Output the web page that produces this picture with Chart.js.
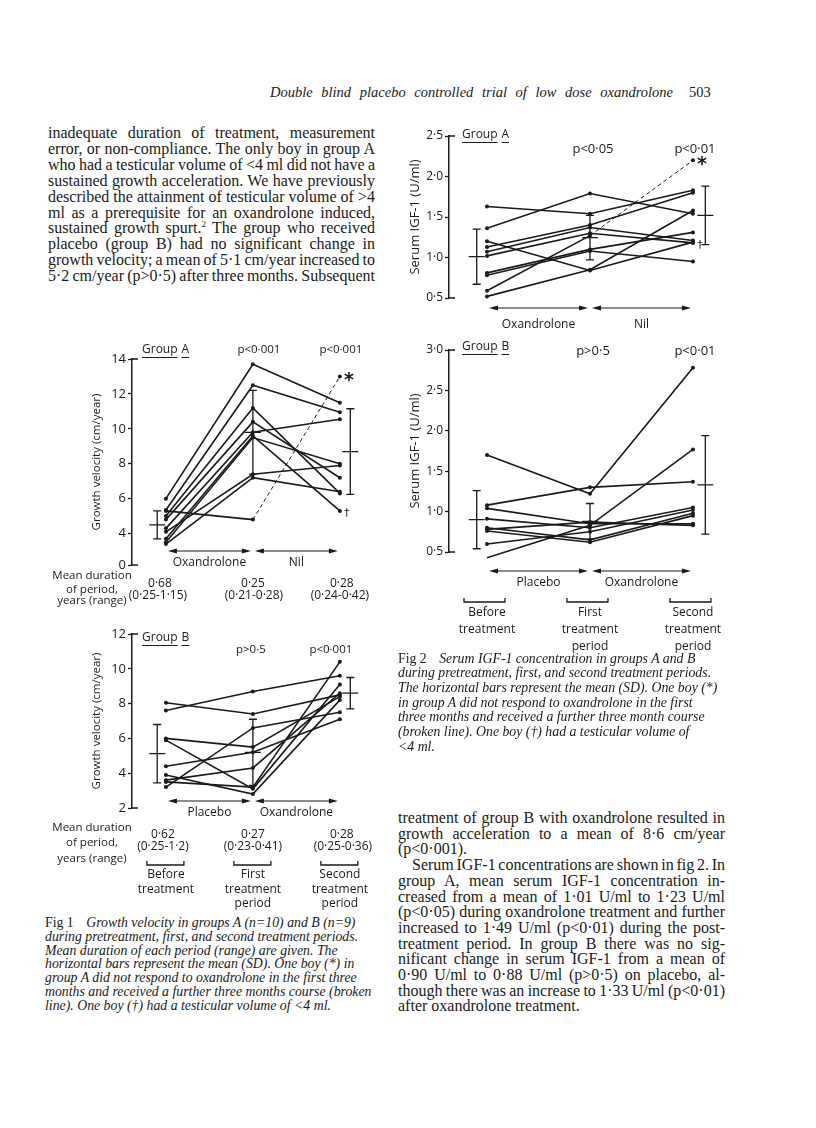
<!DOCTYPE html>
<html>
<head>
<meta charset="utf-8">
<script src="https://cdn.jsdelivr.net/npm/chart.js@4.4.1/dist/chart.umd.min.js"></script>
<style>
  body { margin: 0; background: #fff; }
  #page { position: relative; width: 816px; height: 1128px; overflow: hidden; color: #1a1a1a;
          font-family: "Liberation Serif", "Times New Roman", serif; }
  #page canvas { position: absolute; }
  .tl { position: absolute; white-space: nowrap; text-align: left; }
  .body.jl { word-spacing: -2px; }
  .cap { font-style: italic; }
  .cap b { font-style: normal; font-weight: normal; margin-right: 9px; }
  .lab { position: absolute; width: 100px; text-align: center; font-family: "Open Sans", sans-serif;
         font-size: 11.5px; line-height: 14px; }
  #head { position: absolute; left: 270px; top: 84px; width: 403px; font-size: 14.5px; font-style: italic;
          text-align: justify; text-align-last: justify; white-space: nowrap; }
  #folio { position: absolute; left: 689px; top: 84px; font-size: 14.5px; }
</style>
</head>
<body>
<div id="page">
  <div id="head">Double blind placebo controlled trial of low dose oxandrolone</div>
  <div id="folio">503</div>

  <canvas id="gvA" width="303" height="277" style="left:82px;top:335px"></canvas>
  <canvas id="gvB" width="303" height="297" style="left:82px;top:615px"></canvas>
  <canvas id="igfA" width="335" height="215" style="left:400px;top:120px"></canvas>
  <canvas id="igfB" width="335" height="320" style="left:400px;top:335px"></canvas>

  <div class="lab" style="left:42px;top:568px">Mean duration<br>of period,</div>
  <div class="lab" style="left:42px;top:593px">years (range)</div>
  <div class="lab" style="left:42px;top:820px">Mean duration</div>
  <div class="lab" style="left:42px;top:835px">of period,</div>
  <div class="lab" style="left:42px;top:851px">years (range)</div>
</div>

<script>
const INK = '#1a1a1a';
Chart.defaults.font.family = '"Open Sans", sans-serif';
Chart.defaults.color = INK;

const periods = [0, 1, 2];
const periodLines = [['Before', 'treatment'], ['First', 'treatment', 'period'], ['Second', 'treatment', 'period']];

// Fig 1, group A: growth velocity (cm/year), one entry per boy
const gvA_before = [6.0, 5.35, 5.0, 4.8, 4.3, 3.7, 3.5, 4.1, 3.4, 5.3];
const gvA_first  = [13.7, 12.5, 11.2, 10.4, 9.8, 9.6, 9.5, 7.4, 7.2, 4.8];
const gvA_second = [11.5, 10.95, 6.3, 7.2, 10.55, 5.3, 8.0, 7.9, 6.4, 13.0];
const gvA_mean = [4.5, 9.8, 8.7];
const gvA_sd   = [0.8, 2.4, 2.45];
const gvA_ticks = [2.2, 4, 6, 8, 10, 12, 14];
const gvA_tickLabels = ['0', '4', '6', '8', '10', '12', '14'];
const gvA_p = ['p<0·001', 'p<0·001'];
const gvA_duration = ['0·68', '0·25', '0·28'];
const gvA_range = ['(0·25-1·15)', '(0·21-0·28)', '(0·24-0·42)'];

// Fig 1, group B
const gvB_before = [7.6, 8.05, 3.2, 6.0, 4.4, 3.6, 3.5, 5.9, 3.9];
const gvB_first  = [8.7, 7.4, 6.6, 5.5, 5.2, 4.3, 3.2, 3.1, 2.8];
const gvB_second = [9.6, 8.5, 7.5, 8.4, 7.1, 8.6, 10.4, 9.1, 8.2];
const gvB_mean = [5.12, 5.2, 8.6];
const gvB_sd   = [1.68, 1.9, 0.9];
const gvB_ticks = [2, 4, 6, 8, 10, 12];
const gvB_tickLabels = ['2', '4', '6', '8', '10', '12'];
const gvB_p = ['p>0·5', 'p<0·001'];
const gvB_duration = ['0·62', '0·27', '0·28'];
const gvB_range = ['(0·25-1·2)', '(0·23-0·41)', '(0·25-0·36)'];

// Fig 2, group A: serum IGF-1 (U/ml)
const igfA_before = [1.63, 1.36, 1.20, 1.13, 1.07, 1.02, 0.81, 0.78, 0.52, 0.59];
const igfA_first  = [1.54, 1.79, 0.84, 1.40, 1.37, 1.30, 1.10, 1.08, 0.85, 1.27];
const igfA_second = [1.83, 1.54, 1.19, 1.80, 1.21, 1.18, 1.31, 0.95, 1.58, 2.20];
const igfA_mean = [1.01, 1.245, 1.52];
const igfA_sd   = [0.34, 0.275, 0.36];
const igfA_ticks = [0.5, 1.0, 1.5, 2.0, 2.5];
const igfA_tickLabels = ['0·5', '1·0', '1·5', '2·0', '2·5'];
const igfA_p = ['p<0·05', 'p<0·01'];

// Fig 2, group B
const igfB_before = [1.70, 1.08, 0.43, 1.04, 0.78, 0.91, 0.60, 0.80, 0.76];
const igfB_first  = [1.22, 1.30, 0.83, 0.85, 0.87, 0.80, 0.75, 0.65, 0.62];
const igfB_second = [2.78, 1.37, 1.77, 0.85, 0.83, 1.05, 1.02, 0.98, 0.95];
const igfB_mean = [0.90, 0.88, 1.33];
const igfB_sd   = [0.36, 0.22, 0.61];
const igfB_ticks = [0.5, 1.0, 1.5, 2.0, 2.5, 3.0];
const igfB_tickLabels = ['0·5', '1·0', '1·5', '2·0', '2·5', '3·0'];
const igfB_p = ['p>0·5', 'p<0·01'];

// boy who got a second course (broken line, *) and boy with testes < 4 ml (†)
const groupA_dashed = 9;
const groupA_dagger = 5;

const meanX = [-0.1, 1, 2.12];

function head(ctx, x, y, dir) {
  ctx.beginPath();
  ctx.moveTo(x, y);
  ctx.lineTo(x + dir * 9, y - 2.6);
  ctx.lineTo(x + dir * 9, y + 2.6);
  ctx.closePath();
  ctx.fill();
}

function makeDecor(o) {
  return {
    id: 'decor',
    afterDatasetsDraw(chart) {
      const { ctx, chartArea: a, scales: { x, y } } = chart;
      const px = v => x.getPixelForValue(v);
      const py = v => y.getPixelForValue(v);
      ctx.save();
      ctx.strokeStyle = INK;
      ctx.fillStyle = INK;

      // corners at both ends of the axis
      ctx.lineWidth = 1.5;
      ctx.beginPath();
      ctx.moveTo(a.left, a.top); ctx.lineTo(a.left + 6, a.top);
      ctx.moveTo(a.left, a.bottom); ctx.lineTo(a.left + 6, a.bottom);
      ctx.stroke();

      // mean (SD)
      ctx.lineWidth = 1.3;
      o.mean.forEach((m, i) => {
        const bx = px(meanX[i]), t = py(m + o.sd[i]), b = py(m - o.sd[i]), c = py(m);
        ctx.beginPath();
        ctx.moveTo(bx, t); ctx.lineTo(bx, b);
        ctx.moveTo(bx - 4, t); ctx.lineTo(bx + 4, t);
        ctx.moveTo(bx - 4, b); ctx.lineTo(bx + 4, b);
        ctx.moveTo(bx - 8, c); ctx.lineTo(bx + 8, c);
        ctx.stroke();
      });

      ctx.textBaseline = 'middle';

      // underlined group name
      ctx.textAlign = 'left';
      ctx.font = '12px "Open Sans"';
      ctx.lineWidth = 1;
      let gx = a.left + o.groupDx;
      const gy = a.top + o.groupDy;
      o.group.split(' ').forEach(w => {
        const wd = ctx.measureText(w).width;
        ctx.fillText(w, gx, gy);
        ctx.beginPath(); ctx.moveTo(gx, gy + 7.5); ctx.lineTo(gx + wd, gy + 7.5); ctx.stroke();
        gx += wd + 4;
      });

      // p values
      ctx.textAlign = 'center';
      ctx.font = o.pFont;
      o.p.forEach((t, i) => ctx.fillText(t, px(i + 1) + o.pDx[i], a.top + o.pDy));

      // treatment arrows
      const ay = a.bottom + o.arrowDy;
      ctx.font = '12px "Open Sans"';
      ctx.lineWidth = 1.2;
      o.arrows.forEach((t, k) => {
        const x0 = px(k) + 2, x1 = px(k + 1) - 2;
        ctx.beginPath(); ctx.moveTo(x0 + 4, ay); ctx.lineTo(x1 - 4, ay); ctx.stroke();
        head(ctx, x0, ay, 1);
        head(ctx, x1, ay, -1);
        ctx.fillText(t, (x0 + x1) / 2, a.bottom + o.arrowTextDy);
      });

      // texts under the columns
      o.rows.forEach(r => r.texts.forEach((t, i) => ctx.fillText(t, px(i) + (r.dx ? r.dx[i] : 0), a.bottom + r.dy)));

      // brackets
      if (o.bracketDy != null) {
        const by = a.bottom + o.bracketDy;
        ctx.lineWidth = 1.3;
        periods.forEach(p => {
          const l = px(p) + o.bracket[0], r = px(p) + o.bracket[1];
          ctx.beginPath();
          ctx.moveTo(l, by - 4); ctx.lineTo(l, by); ctx.lineTo(r, by); ctx.lineTo(r, by - 4);
          ctx.stroke();
        });
      }

      // * and † markers
      if (o.star != null) {
        const d = chart.data.datasets[o.star].data[2];
        ctx.font = 'bold 19px "DejaVu Sans"';
        ctx.fillText('*', px(d.x) + 9, py(d.y) + 5);
      }
      if (o.dagger != null) {
        const d = chart.data.datasets[o.dagger].data[2];
        ctx.font = '11px "DejaVu Sans"';
        ctx.fillText('†', px(d.x) + 7, py(d.y) + 2);
      }
      ctx.restore();
    }
  };
}

function makePanel(id, cols, o) {
  const datasets = cols[0].map((_, i) => {
    const ds = {
      data: periods.map(p => ({ x: p, y: cols[p][i] })),
      borderColor: INK,
      borderWidth: 1.6,
      pointRadius: 2,
      pointBorderWidth: 0,
      pointBackgroundColor: INK,
      tension: 0,
      clip: false
    };
    if (i === o.dashed) {
      ds.segment = {
        borderDash: c => c.p0DataIndex === 1 ? [4, 3] : undefined,
        borderWidth: c => c.p0DataIndex === 1 ? 1 : undefined
      };
    }
    return ds;
  });

  return new Chart(document.getElementById(id), {
    type: 'line',
    data: { datasets },
    options: {
      responsive: false,
      animation: false,
      layout: { padding: o.pad },
      plugins: { legend: { display: false }, tooltip: { enabled: false } },
      scales: {
        x: { type: 'linear', display: false, min: o.xMin, max: o.xMax },
        y: {
          min: o.ticks[0],
          max: o.ticks[o.ticks.length - 1],
          afterFit: s => { s.width = o.axisW; },
          afterBuildTicks: s => { s.ticks = o.ticks.map(v => ({ value: v })); },
          ticks: { callback: (v, i) => o.tickLabels[i], font: { size: o.tickSize }, padding: 2, autoSkip: false, color: INK },
          grid: { drawOnChartArea: false, tickLength: 4, color: INK, tickWidth: 1.3 },
          border: { color: INK, width: 1.5 },
          title: { display: true, text: o.yTitle, color: INK, font: { size: o.titleSize },
                   padding: { top: o.titlePad, bottom: 0 } }
        }
      }
    },
    plugins: [makeDecor(o)]
  });
}

const periodRows = (dys) => dys.map((dy, k) => ({ dy, texts: periodLines.map(l => l[k] || '') }));

makePanel('gvA', [gvA_before, gvA_first, gvA_second], {
  xMin: -0.39, xMax: 2.45, axisW: 50, pad: { top: 24, bottom: 47, left: 0, right: 6 },
  ticks: gvA_ticks, tickLabels: gvA_tickLabels, tickSize: 13,
  yTitle: 'Growth velocity (cm/year)', titleSize: 11.5, titlePad: 8,
  mean: gvA_mean, sd: gvA_sd,
  group: 'Group A', groupDx: 10, groupDy: -9,
  p: gvA_p, pDx: [6, 1], pDy: -9, pFont: '11.5px "Open Sans"',
  arrows: ['Oxandrolone', 'Nil'], arrowDy: -14, arrowTextDy: -2,
  rows: [{ dy: 19, texts: gvA_duration, dx: [-6, 0, 2] }, { dy: 31, texts: gvA_range, dx: [-8, 1, 0] }],
  dashed: groupA_dashed, star: groupA_dashed, dagger: groupA_dagger
});

makePanel('gvB', [gvB_before, gvB_first, gvB_second], {
  xMin: -0.39, xMax: 2.45, axisW: 50, pad: { top: 19, bottom: 104, left: 0, right: 6 },
  ticks: gvB_ticks, tickLabels: gvB_tickLabels, tickSize: 13,
  yTitle: 'Growth velocity (cm/year)', titleSize: 11.5, titlePad: 8,
  mean: gvB_mean, sd: gvB_sd,
  group: 'Group B', groupDx: 10, groupDy: 4,
  p: gvB_p, pDx: [-2, -9], pDy: 16, pFont: '11.5px "Open Sans"',
  arrows: ['Placebo', 'Oxandrolone'], arrowDy: -7, arrowTextDy: 5,
  rows: [{ dy: 27, texts: gvB_duration, dx: [-3, 0, 2] }, { dy: 39, texts: gvB_range, dx: [-3, 0, 3] }]
    .concat(periodRows([67, 82, 96])),
  bracketDy: 57, bracket: [-19, 18]
});

makePanel('igfA', [igfA_before, igfA_first, igfA_second], {
  xMin: -0.369, xMax: 2.35, axisW: 49, pad: { top: 16, bottom: 37, left: 0, right: 6 },
  ticks: igfA_ticks, tickLabels: igfA_tickLabels, tickSize: 12,
  yTitle: 'Serum IGF-1 (U/ml)', titleSize: 13, titlePad: 7,
  mean: igfA_mean, sd: igfA_sd,
  group: 'Group A', groupDx: 13, groupDy: -1,
  p: igfA_p, pDx: [3, 2], pDy: 13, pFont: '13px "Open Sans"',
  arrows: ['Oxandrolone', 'Nil'], arrowDy: 10, arrowTextDy: 27,
  rows: [],
  dashed: groupA_dashed, star: groupA_dashed, dagger: groupA_dagger
});

makePanel('igfB', [igfB_before, igfB_first, igfB_second], {
  xMin: -0.369, xMax: 2.35, axisW: 49, pad: { top: 15, bottom: 103, left: 0, right: 6 },
  ticks: igfB_ticks, tickLabels: igfB_tickLabels, tickSize: 12,
  yTitle: 'Serum IGF-1 (U/ml)', titleSize: 13, titlePad: 7,
  mean: igfB_mean, sd: igfB_sd,
  group: 'Group B', groupDx: 13, groupDy: -3,
  p: igfB_p, pDx: [3, 2], pDy: 1, pFont: '13px "Open Sans"',
  arrows: ['Placebo', 'Oxandrolone'], arrowDy: 19, arrowTextDy: 31,
  rows: periodRows([61, 78, 95]),
  bracketDy: 50, bracket: [-23, 18]
});

// running text and captions
function textLines(list, o) {
  const page = document.getElementById('page');
  list.forEach(([s, mode], i) => {
    const d = document.createElement('div');
    const ind = mode === 'i' ? 14 : 0;
    d.className = 'tl' + (o.cls ? ' ' + o.cls : '');
    d.style.left = (o.left + ind) + 'px';
    d.style.top = (o.y0 + i * o.step - o.lh / 2) + 'px';
    d.style.width = (o.width - ind) + 'px';
    d.style.fontSize = o.size + 'px';
    d.style.lineHeight = o.lh + 'px';
    if (mode === 'j' || mode === 'i') {
      d.classList.add('jl');
      d.style.textAlign = 'justify';
      d.style.textAlignLast = 'justify';
    }
    d.innerHTML = s;
    page.appendChild(d);
  });
}

textLines([
  ['inadequate duration of treatment, measurement', 'j'],
  ['error, or non-compliance. The only boy in group A', 'j'],
  ['who had a testicular volume of &lt;4 ml did not have a', 'j'],
  ['sustained growth acceleration. We have previously', 'j'],
  ['described the attainment of testicular volume of &gt;4', 'j'],
  ['ml as a prerequisite for an oxandrolone induced,', 'j'],
  ['sustained growth spurt.<sup style="font-size:9px;line-height:0">2</sup> The group who received', 'j'],
  ['placebo (group B) had no significant change in', 'j'],
  ['growth velocity; a mean of 5·1 cm/year increased to', 'j'],
  ['5·2 cm/year (p&gt;0·5) after three months. Subsequent', 'j']
], { left: 48, width: 327, y0: 133, step: 15.9, size: 16, lh: 16, cls: 'body' });

textLines([
  ['treatment of group B with oxandrolone resulted in', 'j'],
  ['growth acceleration to a mean of 8·6 cm/year', 'j'],
  ['(p&lt;0·001).', 'l'],
  ['Serum IGF-1 concentrations are shown in fig 2. In', 'i'],
  ['group A, mean serum IGF-1 concentration in-', 'j'],
  ['creased from a mean of 1·01 U/ml to 1·23 U/ml', 'j'],
  ['(p&lt;0·05) during oxandrolone treatment and further', 'j'],
  ['increased to 1·49 U/ml (p&lt;0·01) during the post-', 'j'],
  ['treatment period. In group B there was no sig-', 'j'],
  ['nificant change in serum IGF-1 from a mean of', 'j'],
  ['0·90 U/ml to 0·88 U/ml (p&gt;0·5) on placebo, al-', 'j'],
  ['though there was an increase to 1·33 U/ml (p&lt;0·01)', 'j'],
  ['after oxandrolone treatment.', 'l']
], { left: 398, width: 327, y0: 818, step: 15.7, size: 16, lh: 16, cls: 'body' });

textLines([
  ['<b>Fig 1</b> Growth velocity in groups A (n=10) and B (n=9)', 'l'],
  ['during pretreatment, first, and second treatment periods.', 'l'],
  ['Mean duration of each period (range) are given. The', 'l'],
  ['horizontal bars represent the mean (SD). One boy (*) in', 'l'],
  ['group A did not respond to oxandrolone in the first three', 'l'],
  ['months and received a further three months course (broken', 'l'],
  ['line). One boy (†) had a testicular volume of &lt;4 ml.', 'l']
], { left: 45, width: 340, y0: 923, step: 13.8, size: 13.8, lh: 14, cls: 'cap' });

textLines([
  ['<b>Fig 2</b> Serum IGF-1 concentration in groups A and B', 'l'],
  ['during pretreatment, first, and second treatment periods.', 'l'],
  ['The horizontal bars represent the mean (SD). One boy (*)', 'l'],
  ['in group A did not respond to oxandrolone in the first', 'l'],
  ['three months and received a further three month course', 'l'],
  ['(broken line). One boy (†) had a testicular volume of', 'l'],
  ['&lt;4 ml.', 'l']
], { left: 398, width: 340, y0: 658, step: 14.7, size: 13.8, lh: 15, cls: 'cap' });
</script>
</body>
</html>
